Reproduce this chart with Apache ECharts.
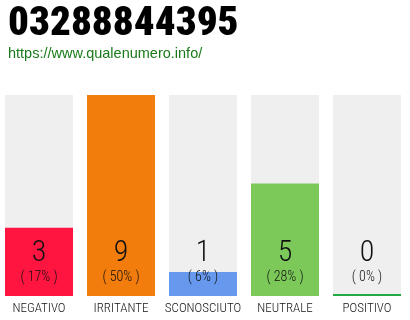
<!DOCTYPE html>
<html><head><meta charset="utf-8">
<script src="https://cdn.jsdelivr.net/npm/echarts@6/dist/echarts.min.js"></script>
<style>html,body{margin:0;padding:0;background:#fff}#c{width:410px;height:320px}</style>
</head><body><div id="c"></div>
<script>
var titleText = '03288844395';
var urlText = 'https://www.qualenumero.info/';
var categories = ['NEGATIVO', 'IRRITANTE', 'SCONOSCIUTO', 'NEUTRALE', 'POSITIVO'];
var values = [3, 9, 1, 5, 0];
var percentLabels = ['17%', '50%', '6%', '28%', '0%'];
var colors = ['#ff1540', '#f27c0c', '#6699ee', '#7cc95a', '#22aa44'];

var maxVal = 9;
var baseVal = 0.09; // thin coloured foot drawn under every bar
var chart = echarts.init(document.getElementById('c'));
var font = '"Roboto Condensed", sans-serif';
chart.setOption({
  animation: false,
  title: {
    text: titleText, subtext: urlText, left: 3, top: -1, itemGap: 1,
    textStyle: {fontFamily: font, fontWeight: 900, fontSize: 41, color: '#000'},
    subtextStyle: {fontFamily: '"Liberation Sans", Arial, sans-serif', fontSize: 14.5, color: '#1a7a1a'}
  },
  grid: {left: -2, width: 410, top: 95, bottom: 24, outerBoundsMode: 'none', containLabel: false},
  xAxis: {
    type: 'category', data: categories,
    axisLine: {show: false}, axisTick: {show: false},
    axisLabel: {fontFamily: font, fontWeight: 300, fontSize: 13, color: '#111', margin: 6, interval: 0}
  },
  yAxis: {type: 'value', min: 0, max: maxVal + baseVal, show: false, splitLine: {show: false}},
  series: [
    {
      type: 'bar', stack: 's', barWidth: 68,
      data: values.map(function (v, i) {
        return {value: baseVal, itemStyle: {color: colors[i]}};
      }),
      label: {
        show: true, position: 'top', distance: 8,
        formatter: function (p) {
          return '{n|' + values[p.dataIndex] + '}\n{p|( ' + percentLabels[p.dataIndex] + ' )}';
        },
        rich: {
          n: {fontFamily: font, fontWeight: 300, fontSize: 30, lineHeight: 30, color: '#111', align: 'center'},
          p: {fontFamily: font, fontWeight: 300, fontSize: 14, lineHeight: 18, color: '#111', align: 'center'}
        }
      },
      z: 3
    },
    {
      type: 'bar', stack: 's', barWidth: 68,
      showBackground: true,
      backgroundStyle: {color: '#efefef'},
      data: values.map(function (v, i) {
        return {value: v, itemStyle: {color: colors[i]}};
      }),
      z: 2
    }
  ]
});
</script></body></html>
